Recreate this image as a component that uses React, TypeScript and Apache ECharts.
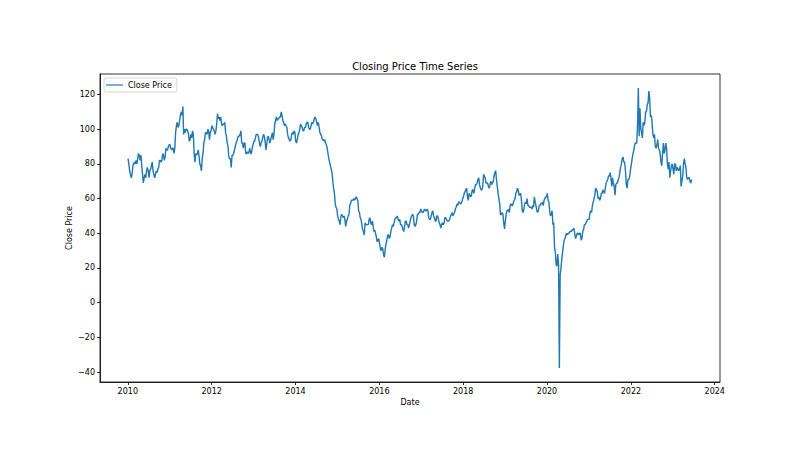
import React, { useEffect, useRef } from "react";
import * as echarts from "echarts";

// Weekly closing prices, 52 per year (Jan 4, Feb 4, Mar 5, Apr 4, May 4, Jun 5, Jul 4, Aug 4, Sep 5, Oct 4, Nov 4, Dec 5)
const close2010 = [83, 80, 76, 74, 72, 74, 79, 80, 81, 80, 82, 80, 83, 86, 85, 82, 85, 79, 74, 69, 72, 74, 72, 76, 78, 76, 72, 76, 77, 79, 81, 76, 74, 72, 74, 76, 75, 77, 78, 82, 82, 81, 82, 86, 85, 82, 84, 89, 88, 88, 90, 91];
const close2011 = [91, 89, 88, 89, 89, 86, 89, 98, 102, 104, 101, 102, 105, 108, 110, 108, 113, 97, 100, 98, 100, 100, 99, 97, 93, 94, 97, 95, 99, 97, 86, 81, 86, 85, 86, 88, 85, 80, 79, 76, 83, 86, 92, 94, 98, 98, 97, 100, 99, 94, 98, 99];
const close2012 = [102, 101, 100, 99, 97, 99, 103, 109, 106, 107, 105, 107, 103, 102, 103, 103, 104, 98, 96, 92, 90, 84, 83, 83, 78, 85, 85, 86, 88, 90, 92, 93, 95, 96, 96, 97, 99, 92, 92, 89, 92, 92, 86, 86, 87, 86, 87, 89, 86, 86, 89, 91];
const close2013 = [93, 93, 95, 97, 97, 97, 95, 92, 90, 92, 93, 95, 97, 96, 93, 88, 91, 95, 96, 94, 92, 94, 96, 98, 94, 97, 103, 105, 107, 105, 106, 106, 107, 107, 110, 108, 105, 104, 102, 103, 102, 101, 97, 95, 94, 93, 94, 97, 98, 97, 99, 98];
const close2014 = [93, 92, 94, 97, 98, 100, 103, 102, 101, 99, 99, 101, 101, 103, 104, 104, 101, 100, 100, 102, 104, 103, 104, 106, 107, 106, 104, 102, 104, 101, 98, 97, 96, 94, 94, 93, 94, 92, 91, 89, 86, 83, 81, 79, 77, 75, 70, 66, 63, 57, 55, 54];
const close2015 = [50, 48, 47, 45, 50, 51, 50, 49, 50, 48, 44, 47, 48, 50, 51, 56, 57, 59, 59, 59, 60, 59, 60, 61, 60, 59, 53, 52, 49, 48, 45, 42, 41, 39, 46, 45, 45, 45, 45, 48, 49, 46, 45, 47, 44, 41, 42, 40, 38, 35, 36, 37];
const close2016 = [34, 31, 30, 32, 31, 27.5, 26.2, 31, 34, 36, 39, 39, 37, 38, 41, 43, 45, 44, 46, 48, 49, 49, 50, 48, 47, 48, 45, 45, 44, 42, 41, 44, 47, 47, 45, 45, 43, 45, 47, 49, 50, 51, 50, 45, 44, 45, 47, 51, 51, 52, 52, 54];
const close2017 = [53, 52, 52, 53, 54, 53, 53, 54, 53, 49, 48, 48, 50, 52, 53, 50, 49, 47, 47, 50, 50, 48, 46, 45, 43, 45, 46, 45, 46, 49, 49, 48, 47, 47, 47, 48, 50, 51, 52, 50, 51, 52, 54, 55, 57, 56, 58, 58, 57, 57, 58, 60];
const close2018 = [61, 63, 64, 65, 66, 61, 59, 63, 62, 61, 62, 65, 65, 63, 66, 68, 68, 69, 71, 72, 68, 66, 65, 65, 67, 74, 73, 72, 69, 69, 69, 67, 66, 68, 70, 68, 69, 70, 73, 75, 76, 71, 67, 63, 60, 57, 50.5, 51, 52, 51, 46, 42.5];
const close2019 = [47, 51, 53, 53, 54, 52, 56, 57, 56, 56, 58, 59, 60, 63, 64, 66, 65, 62, 62, 63, 59, 53, 52, 54, 57, 58, 57, 60, 56, 56, 55, 55, 55, 54, 56, 55, 61, 58, 56, 53, 52, 53, 56, 56, 57, 57, 58, 56, 59, 60, 61, 61];
const close2020 = [63, 59, 58, 53, 50, 51, 53, 45, 46, 32, 29, 22, 21, 28, 22, -37.6, 16, 20, 25, 29, 33, 36, 37, 39, 40, 39, 40, 40, 41, 41, 41, 42, 42, 43, 40, 37, 38, 40, 40, 39, 40, 40, 36, 37, 41, 42, 45, 45, 46, 47, 48, 48];
const close2021 = [48, 52, 53, 52, 56, 58, 60, 62, 66, 65, 64, 60, 61, 59, 60, 63, 63, 65, 64, 63, 66, 69, 70, 71, 73, 73, 75, 72, 67, 72, 69, 67, 62, 68, 69, 69, 71, 72, 75, 78, 80, 83, 84, 81, 81, 76, 68, 66, 71, 71, 72, 76];
const close2022 = [79, 82, 85, 87, 90, 92, 92, 92, 103, 123.7, 96, 112, 100, 98, 95, 104, 102, 104, 110, 110, 114, 115, 122, 118, 107, 108, 104, 97, 95, 97, 90, 89, 91, 94, 89, 88, 86, 81, 79, 86, 92, 86, 88, 92, 89, 80, 77, 81, 72, 76, 79, 80];
const close2023 = [77, 74, 80, 80, 76, 78, 77, 76, 77, 79, 67, 70, 73, 80, 83, 80, 78, 72, 71, 72, 72, 70, 69, 71];

const yearlyCloses: [number, number[]][] = [
  [2010, close2010], [2011, close2011], [2012, close2012], [2013, close2013],
  [2014, close2014], [2015, close2015], [2016, close2016], [2017, close2017],
  [2018, close2018], [2019, close2019], [2020, close2020], [2021, close2021],
  [2022, close2022], [2023, close2023],
];

const xTicks = [2010, 2012, 2014, 2016, 2018, 2020, 2022, 2024];
const yTicks = [-40, -20, 0, 20, 40, 60, 80, 100, 120];

const seriesName = "Close Price";
const titleText = "Closing Price Time Series";

export default function App() {
  const ref = useRef<HTMLDivElement>(null);
  useEffect(() => {
    if (!ref.current) return;
    const chart = echarts.init(ref.current, undefined, { renderer: "svg" });
    const data: [number, number][] = [];
    yearlyCloses.forEach(([yr, vals]) => {
      vals.forEach((v, i) => data.push([yr + (i + 0.3) / 52, v]));
    });
    const font = "DejaVu Sans";
    chart.setOption({
      animation: false,
      textStyle: { fontFamily: font },
      title: {
        text: titleText,
        left: 410,
        textAlign: "center",
        top: 56,
        textStyle: { fontSize: 10, fontWeight: "normal", color: "#000", fontFamily: font },
      },
      legend: {
        left: 104,
        top: 78,
        data: [{ name: seriesName, icon: "rect" }],
        itemWidth: 17,
        itemHeight: 1.2,
        itemGap: 5,
        padding: [3, 5, 3, 2],
        borderColor: "#cccccc",
        borderWidth: 0.8,
        borderRadius: 2,
        backgroundColor: "rgba(255,255,255,0.8)",
        textStyle: { fontSize: 8, color: "#000", fontFamily: font },
      },
      grid: {
        left: 100,
        right: 80,
        top: 74,
        bottom: 71,
        show: true,
        borderColor: "#000",
        borderWidth: 0.8,
        backgroundColor: "transparent",
      },
      xAxis: {
        type: "value",
        min: 2009.337,
        max: 2024.126,
        name: "Date",
        nameLocation: "middle",
        nameGap: 16,
        nameMoveOverlap: false,
        nameTextStyle: { fontSize: 8, color: "#000", fontFamily: font },
        axisLine: { show: true, onZero: false, lineStyle: { color: "#000", width: 0.8 } },
        axisTick: { show: true, length: 3, customValues: xTicks, lineStyle: { color: "#000", width: 0.8 } },
        axisLabel: { customValues: xTicks, fontSize: 8, color: "#000", margin: 5, fontFamily: font, formatter: (v: number) => String(Math.round(v)) },
        splitLine: { show: false },
      },
      yAxis: {
        type: "value",
        min: -45.7,
        max: 131.8,
        name: "Close Price",
        nameLocation: "middle",
        nameGap: 27,
        nameMoveOverlap: false,
        nameTextStyle: { fontSize: 8, color: "#000", fontFamily: font },
        axisLine: { show: true, onZero: false, lineStyle: { color: "#000", width: 0.8 } },
        axisTick: { show: true, length: 3, customValues: yTicks, lineStyle: { color: "#000", width: 0.8 } },
        axisLabel: { customValues: yTicks, fontSize: 8, color: "#000", margin: 5, fontFamily: font, formatter: (v: number) => (v < 0 ? "\u2212" + Math.abs(v) : String(v)) },
        splitLine: { show: false },
      },
      series: [
        {
          name: seriesName,
          type: "line",
          data,
          showSymbol: false,
          symbol: "none",
          itemStyle: { color: "#1f77b4" },
          lineStyle: { color: "#1f77b4", width: 1.4 },
        },
      ],
    });
    return () => chart.dispose();
  }, []);
  return (
    <div
      ref={ref}
      style={{ position: "fixed", left: 0, top: 0, width: 800, height: 453, background: "#fff" }}
    />
  );
}
